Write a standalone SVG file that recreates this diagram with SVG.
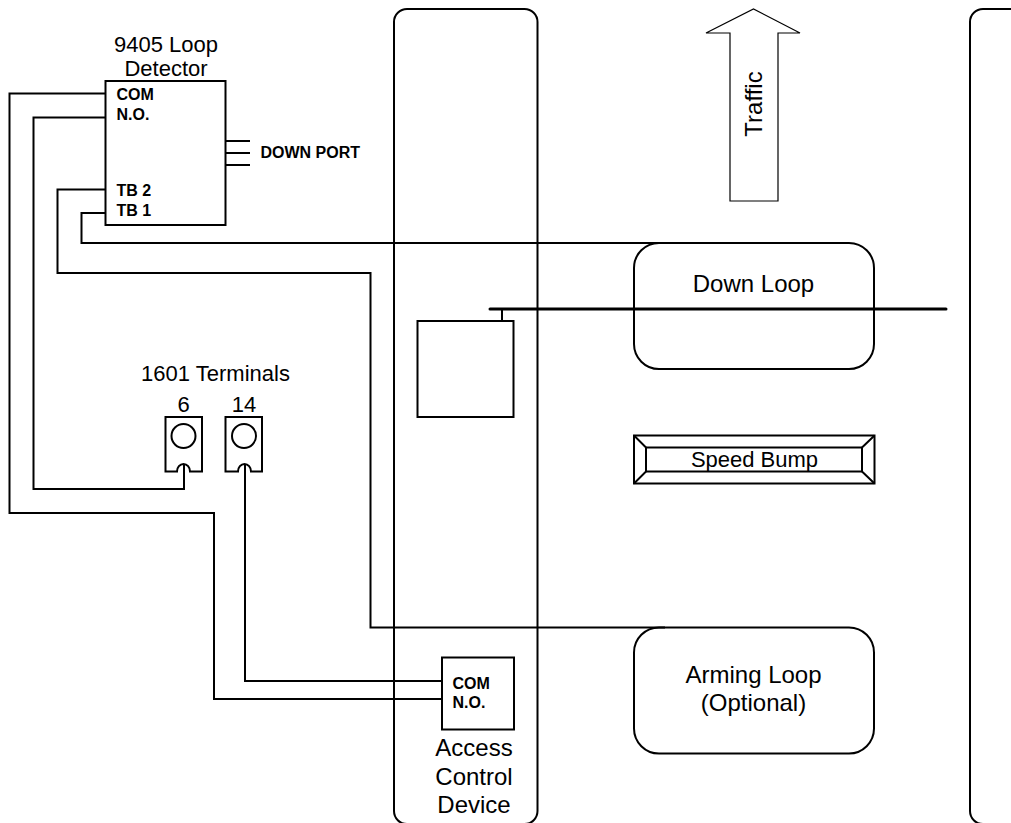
<svg xmlns="http://www.w3.org/2000/svg" width="1011" height="823" viewBox="0 0 1011 823">
<style>
text{font-family:"Liberation Sans",Arial,sans-serif;fill:#000}
.l{font-size:22px;text-anchor:middle}
.m{font-size:24px;text-anchor:middle}
.s{font-size:16px;font-weight:bold}
.b{fill:none;stroke:#000;stroke-width:2}
.w{fill:none;stroke:#000;stroke-width:2}
</style>
<rect width="1011" height="823" fill="#fff"/>
<g id="connectors">
<path class="w" d="M105.500 93.500H9.500V513H214V699H442"/>
<path class="w" d="M105.500 117.500H33.500V489H184V464"/>
<path class="w" d="M105.500 189.500H57.500V273H370.500V627.500H665"/>
<path class="w" d="M105.500 213H81.500V243H660"/>
<path class="w" d="M245 464V681H442"/>
<path class="w" d="M226 141H250M226 153H250M226 165H250"/>
<path d="M490 309H946" fill="none" stroke="#000" stroke-width="3" stroke-linecap="round"/>
<path class="w" d="M502 309V321"/>
</g>
<g id="lane-left"><rect class="b" x="394" y="9" width="143.500" height="815" rx="13"/></g>
<g id="lane-right"><rect class="b" x="970" y="9" width="120" height="815" rx="13"/></g>
<g id="detector">
<rect class="b" x="105.500" y="81" width="120" height="144"/>
<text class="l" x="166" y="52">9405 Loop</text>
<text class="l" x="166" y="76">Detector</text>
<text class="s" x="116.500" y="100">COM</text>
<text class="s" x="116.500" y="120">N.O.</text>
<text class="s" x="116.500" y="196">TB 2</text>
<text class="s" x="116.500" y="216">TB 1</text>
<text class="s" x="260.500" y="158">DOWN PORT</text>
</g>
<g id="terminals">
<text class="l" x="215.500" y="381">1601 Terminals</text>
<text class="l" x="183.500" y="412">6</text>
<text class="l" x="244" y="412">14</text>
</g>
<g id="terminal-6">
<path class="b" d="M165.500 417H202V471.500H190A6.500 7.500 0 0 0 177 471.500H165.500Z"/>
<circle class="b" cx="183.500" cy="436" r="12"/>
</g>
<g id="terminal-14">
<path class="b" d="M225.500 417H262V471.500H251A6.500 7.500 0 0 0 238 471.500H225.500Z"/>
<circle class="b" cx="244" cy="436" r="12"/>
</g>
<g id="gate-box"><rect class="b" x="417.500" y="321" width="96" height="96"/></g>
<g id="access-control">
<rect class="b" x="442" y="657.500" width="72" height="72"/>
<text class="s" x="452.500" y="689">COM</text>
<text class="s" x="452.500" y="708">N.O.</text>
<text class="m" x="474" y="756">Access</text>
<text class="m" x="474" y="785">Control</text>
<text class="m" x="474" y="813">Device</text>
</g>
<g id="traffic">
<path d="M730 201V33H706L753.500 9L800 33H778V201Z" fill="#fff" stroke="#000" stroke-width="1.200"/>
<text class="m" transform="translate(761.500 104) rotate(-90)">Traffic</text>
</g>
<g id="down-loop">
<rect class="b" x="634" y="243" width="240" height="126" rx="25"/>
<text class="m" x="753.500" y="292">Down Loop</text>
</g>
<g id="speed-bump">
<rect class="b" x="634" y="435.500" width="240.500" height="48"/>
<rect class="b" x="646" y="447.500" width="216" height="24"/>
<path class="w" d="M634 435.500L646 447.500M874.500 435.500L862 447.500M634 483.500L646 471.500M874.500 483.500L862 471.500"/>
<text x="754.500" y="467" font-size="22" text-anchor="middle">Speed Bump</text>
</g>
<g id="arming-loop">
<rect class="b" x="634" y="627.500" width="240" height="126" rx="25"/>
<text class="m" x="753.500" y="683">Arming Loop</text>
<text class="m" x="753.500" y="711">(Optional)</text>
</g>
</svg>
